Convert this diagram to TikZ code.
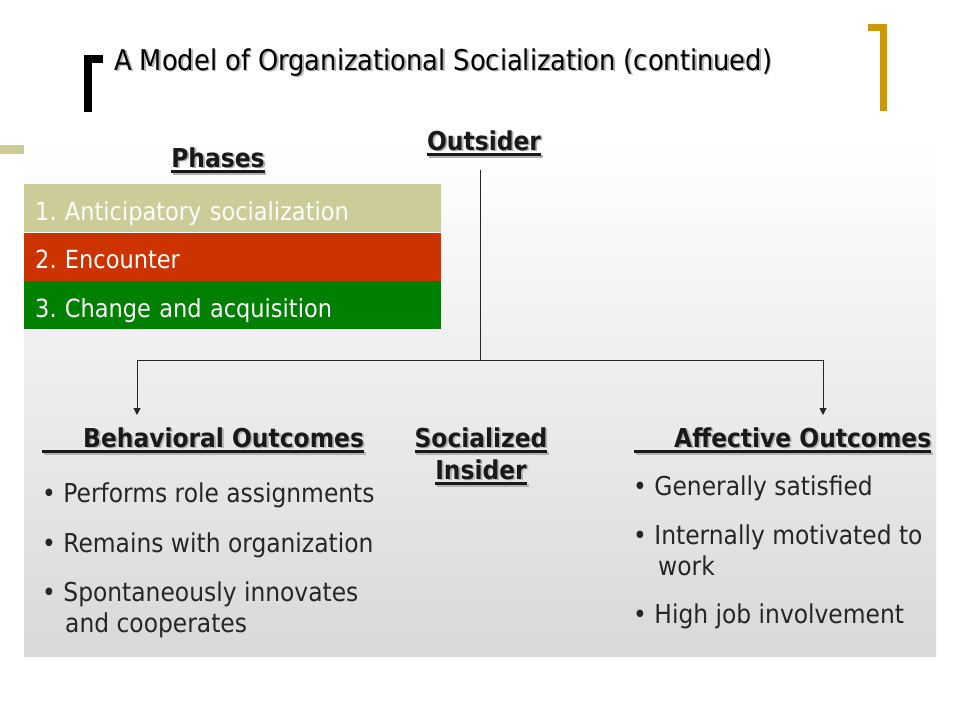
\documentclass[tikz,border=0pt]{standalone}
\usepackage{fontspec}
\setmainfont{DejaVu Sans Condensed}
\usepackage{xcolor}
\usetikzlibrary{arrows.meta,positioning}

\definecolor{phasetan}{HTML}{CCCC99}
\definecolor{phasered}{HTML}{CC3300}
\definecolor{phasegreen}{HTML}{008000}
\definecolor{bracketgold}{HTML}{CC9900}

\newcommand\ulbox[1]{\setbox0\hbox{#1}\rlap{\raisebox{-6pt}{\rule{\wd0}{2.6pt}}}\box0}
\newcommand\shadowed[1]{\rlap{\hspace{1.8pt}\raisebox{-1.8pt}{\color{black!30}#1}}#1}
\frenchspacing

\begin{document}
\begin{tikzpicture}[
    x=1pt, y=-1pt,
    phase/.style={rectangle, fill=#1, text=white, anchor=north west, minimum width=417pt, minimum height=48pt, text width=395pt, inner xsep=11pt, inner ysep=0pt, text height=24pt, text depth=0pt, font=\fontsize{25}{28}\selectfont},
    head/.style={font=\bfseries\fontsize{26}{32}\selectfont, text=black!90, anchor=base, align=center, inner sep=0pt},
    item/.style={font=\fontsize{26}{31}\selectfont, text=black!85, anchor=base west, align=left, inner sep=0pt},
    line/.style={draw=black!85, line width=1pt},
    arrow/.style={line, -{Triangle[length=7pt, width=7pt]}}
]
\useasboundingbox (0,0) rectangle (960,720);

% background and title
\shade[top color=white, bottom color=black!15] (24,140) rectangle (936,656);
\fill[phasetan] (0,145) rectangle (24,154);
\fill[black] (84,55) rectangle (103,63);
\fill[black] (84,55) rectangle (92,112);
\fill[bracketgold] (868,24) rectangle (887,31);
\fill[bracketgold] (880,24) rectangle (887,111);
\node[anchor=base west, inner sep=0pt, font=\fontsize{28.6}{34}\selectfont] (title) at (114,70) {\shadowed{A Model of Organizational Socialization (continued)}};

% phases
\node[head] (phases) at (218,167) {\shadowed{\ulbox{Phases}}};
\node[phase=phasetan] (phase1) at (24,184) {1. Anticipatory socialization};
\node[phase=phasered, below=0pt of phase1] (phase2) {2. Encounter};
\node[phase=phasegreen, below=0pt of phase2] (phase3) {3. Change and acquisition};

% outsider to outcomes
\node[head] (outsider) at (484,150) {\shadowed{\ulbox{Outsider}}};
\coordinate (split) at (480,360);
\coordinate (behavtip) at (137,415);
\coordinate (affecttip) at (823,415);
\draw[line, shorten <=12pt] (split |- outsider.south) -- (split);
\draw[arrow] (split) -| (behavtip);
\draw[arrow] (split) -| (affecttip);

\node[head, anchor=base west] (behav) at (42,447) {\shadowed{\ulbox{\hspace*{41pt}Behavioral Outcomes}}};
\node[head] (insider) at (481,479) {\shadowed{\ulbox{Socialized}}\\\shadowed{\ulbox{Insider}}};
\node[head, anchor=base west] (affect) at (634,447) {\shadowed{\ulbox{\hspace*{40pt}Affective Outcomes}}};

\node[item] (behav1) at (42,502) {\textbullet\ Performs role assignments};
\node[item] (behav2) at (42,552) {\textbullet\ Remains with organization};
\node[item] (behav3) at (42,632) {\textbullet\ Spontaneously innovates\\\hspace*{23pt}and cooperates};

\node[item] (affect1) at (633,495) {\textbullet\ Generally satisfied};
\node[item] (affect2) at (633,575) {\textbullet\ Internally motivated to\\\hspace*{25pt}work};
\node[item] (affect3) at (633,623) {\textbullet\ High job involvement};

\end{tikzpicture}
\end{document}
